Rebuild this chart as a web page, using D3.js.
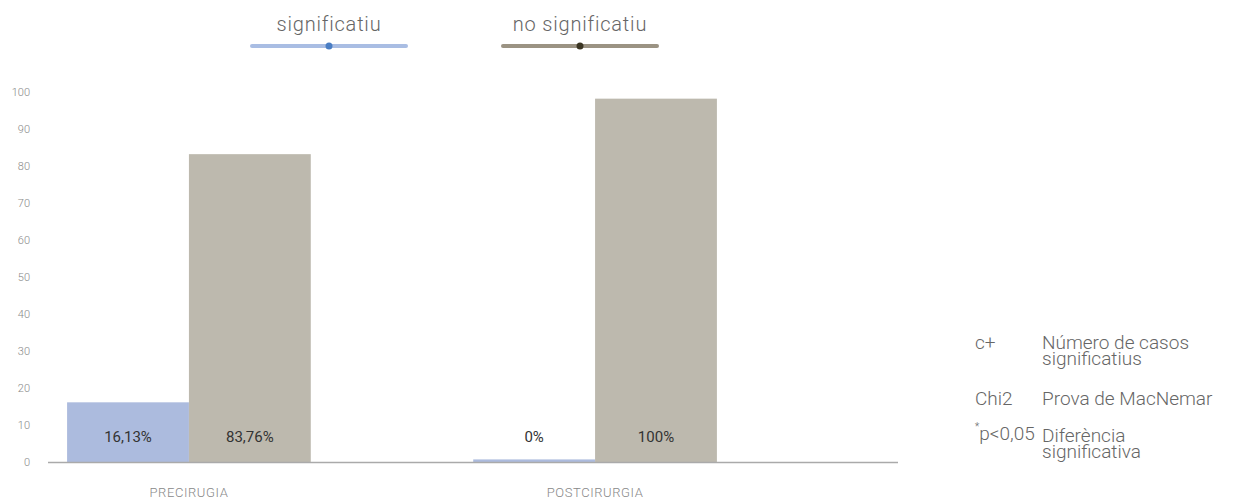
<!DOCTYPE html>
<html>
<head>
<meta charset="utf-8">
<script src="https://cdn.jsdelivr.net/npm/d3@7"></script>
<style>
  body { margin: 0; background: #fff; }
  text { font-family: Roboto, "Open Sans", sans-serif; font-weight: 300; }
</style>
</head>
<body>
<div id="chart"></div>
<script>
// categories and series
var categories = ["PRECIRUGIA", "POSTCIRURGIA"];
var seriesNames = ["significatiu", "no significatiu"];
// bar heights
var significatiu = [16.13, 0.7];
var noSignificatiu = [83.2, 98.2];
// labels printed in the bars
var significatiuLabels = ["16,13%", "0%"];
var noSignificatiuLabels = ["83,76%", "100%"];
var yTicks = [0, 10, 20, 30, 40, 50, 60, 70, 80, 90, 100];
var notes = [
  {key: "c+", lines: ["Número de casos", "significatius"]},
  {key: "Chi2", lines: ["Prova de MacNemar"]},
  {key: "*p<0,05", lines: ["Diferència", "significativa"]}
];

var W = 1236, H = 503;
var colors = ["#acbbde", "#bdb9ae"];
var legendLine = ["#a9bde3", "#9b9383"];
var legendDot = ["#4a7ec4", "#3b3623"];

var svg = d3.select("#chart").append("svg")
    .attr("width", W)
    .attr("height", H);

// scales
var x = d3.scaleBand()
    .domain(categories)
    .range([48, 736])
    .paddingInner(0.4)
    .paddingOuter(0.047);

var xs = d3.scaleBand()
    .domain(seriesNames)
    .range([0, x.bandwidth()]);

var y = d3.scaleLinear()
    .domain([0, 100])
    .range([462, 92]);

// y tick labels
svg.append("g").selectAll("text")
  .data(yTicks)
  .enter().append("text")
    .attr("x", 30)
    .attr("y", function(d) { return y(d); })
    .attr("dy", "0.35em")
    .attr("text-anchor", "end")
    .style("font-size", "11px")
    .style("fill", "#888")
    .text(function(d) { return d; });

// bars
var rows = categories.map(function(c, i) {
  return [
    {cat: c, s: seriesNames[0], v: significatiu[i], label: significatiuLabels[i]},
    {cat: c, s: seriesNames[1], v: noSignificatiu[i], label: noSignificatiuLabels[i]}
  ];
});

var groups = svg.append("g").selectAll("g")
  .data(rows)
  .enter().append("g")
    .attr("transform", function(d) { return "translate(" + x(d[0].cat) + ",0)"; });

groups.selectAll("rect")
  .data(function(d) { return d; })
  .enter().append("rect")
    .attr("x", function(d) { return xs(d.s); })
    .attr("y", function(d) { return y(d.v); })
    .attr("width", xs.bandwidth())
    .attr("height", function(d) { return y(0) - y(d.v); })
    .style("fill", function(d, i) { return colors[i]; });

groups.selectAll("text")
  .data(function(d) { return d; })
  .enter().append("text")
    .attr("x", function(d) { return xs(d.s) + xs.bandwidth() / 2; })
    .attr("y", y(0) - 25)
    .attr("dy", "0.35em")
    .attr("text-anchor", "middle")
    .style("font-size", "15px")
    .style("font-weight", 400)
    .style("fill", "#333")
    .text(function(d) { return d.label; });

// x axis line
svg.append("line")
    .attr("x1", 48).attr("x2", 898)
    .attr("y1", y(0) + 0.5).attr("y2", y(0) + 0.5)
    .style("stroke", "#aaa")
    .style("stroke-width", 1.5);

// category labels
svg.append("g").selectAll("text")
  .data(categories)
  .enter().append("text")
    .attr("x", function(d) { return x(d) + x.bandwidth() / 2; })
    .attr("y", 497)
    .attr("text-anchor", "middle")
    .style("font-size", "13px")
    .style("letter-spacing", "0.6px")
    .style("fill", "#888")
    .text(function(d) { return d; });

// legend
var lx = d3.scaleOrdinal().domain(seriesNames).range([329, 580]);
var leg = svg.append("g").selectAll("g")
  .data(seriesNames)
  .enter().append("g")
    .attr("transform", function(d) { return "translate(" + lx(d) + ",0)"; });

leg.append("text")
    .attr("y", 31)
    .attr("text-anchor", "middle")
    .style("font-size", "20px")
    .style("letter-spacing", "0.8px")
    .style("fill", "#666")
    .text(function(d) { return d; });

leg.append("line")
    .attr("x1", -77).attr("x2", 77)
    .attr("y1", 46).attr("y2", 46)
    .style("stroke", function(d, i) { return legendLine[i]; })
    .style("stroke-width", 4)
    .style("stroke-linecap", "round");

leg.append("circle")
    .attr("cy", 46)
    .attr("r", 3.5)
    .style("fill", function(d, i) { return legendDot[i]; });

// notes on the right
var noteY = [342, 398, 435];
var note = svg.append("g").selectAll("g")
  .data(notes)
  .enter().append("g")
    .attr("transform", function(d, i) { return "translate(0," + noteY[i] + ")"; });

note.append("text")
    .attr("x", 975)
    .attr("dy", "0.35em")
    .style("font-size", "19px")
    .style("fill", "#666")
    .each(function(d) {
      var t = d3.select(this);
      if (d.key.charAt(0) === "*") {
        t.append("tspan").text("*").style("font-size", "10px").attr("dy", "-0.5em");
        t.append("tspan").text(d.key.slice(1)).attr("dy", "0.5em");
      } else {
        t.text(d.key);
      }
    });

// description wrapped over lines in one text element
note.append("text")
    .attr("y", 0)
    .attr("dy", "0.35em")
    .style("font-size", "19px")
    .style("fill", "#666")
    .selectAll("tspan")
    .data(function(d) { return d.lines; })
    .enter().append("tspan")
      .attr("x", 1042)
      .attr("dy", function(d, i) { return i === 0 ? "0.35em" : "16px"; })
      .text(function(d) { return d; });
</script>
</body>
</html>
